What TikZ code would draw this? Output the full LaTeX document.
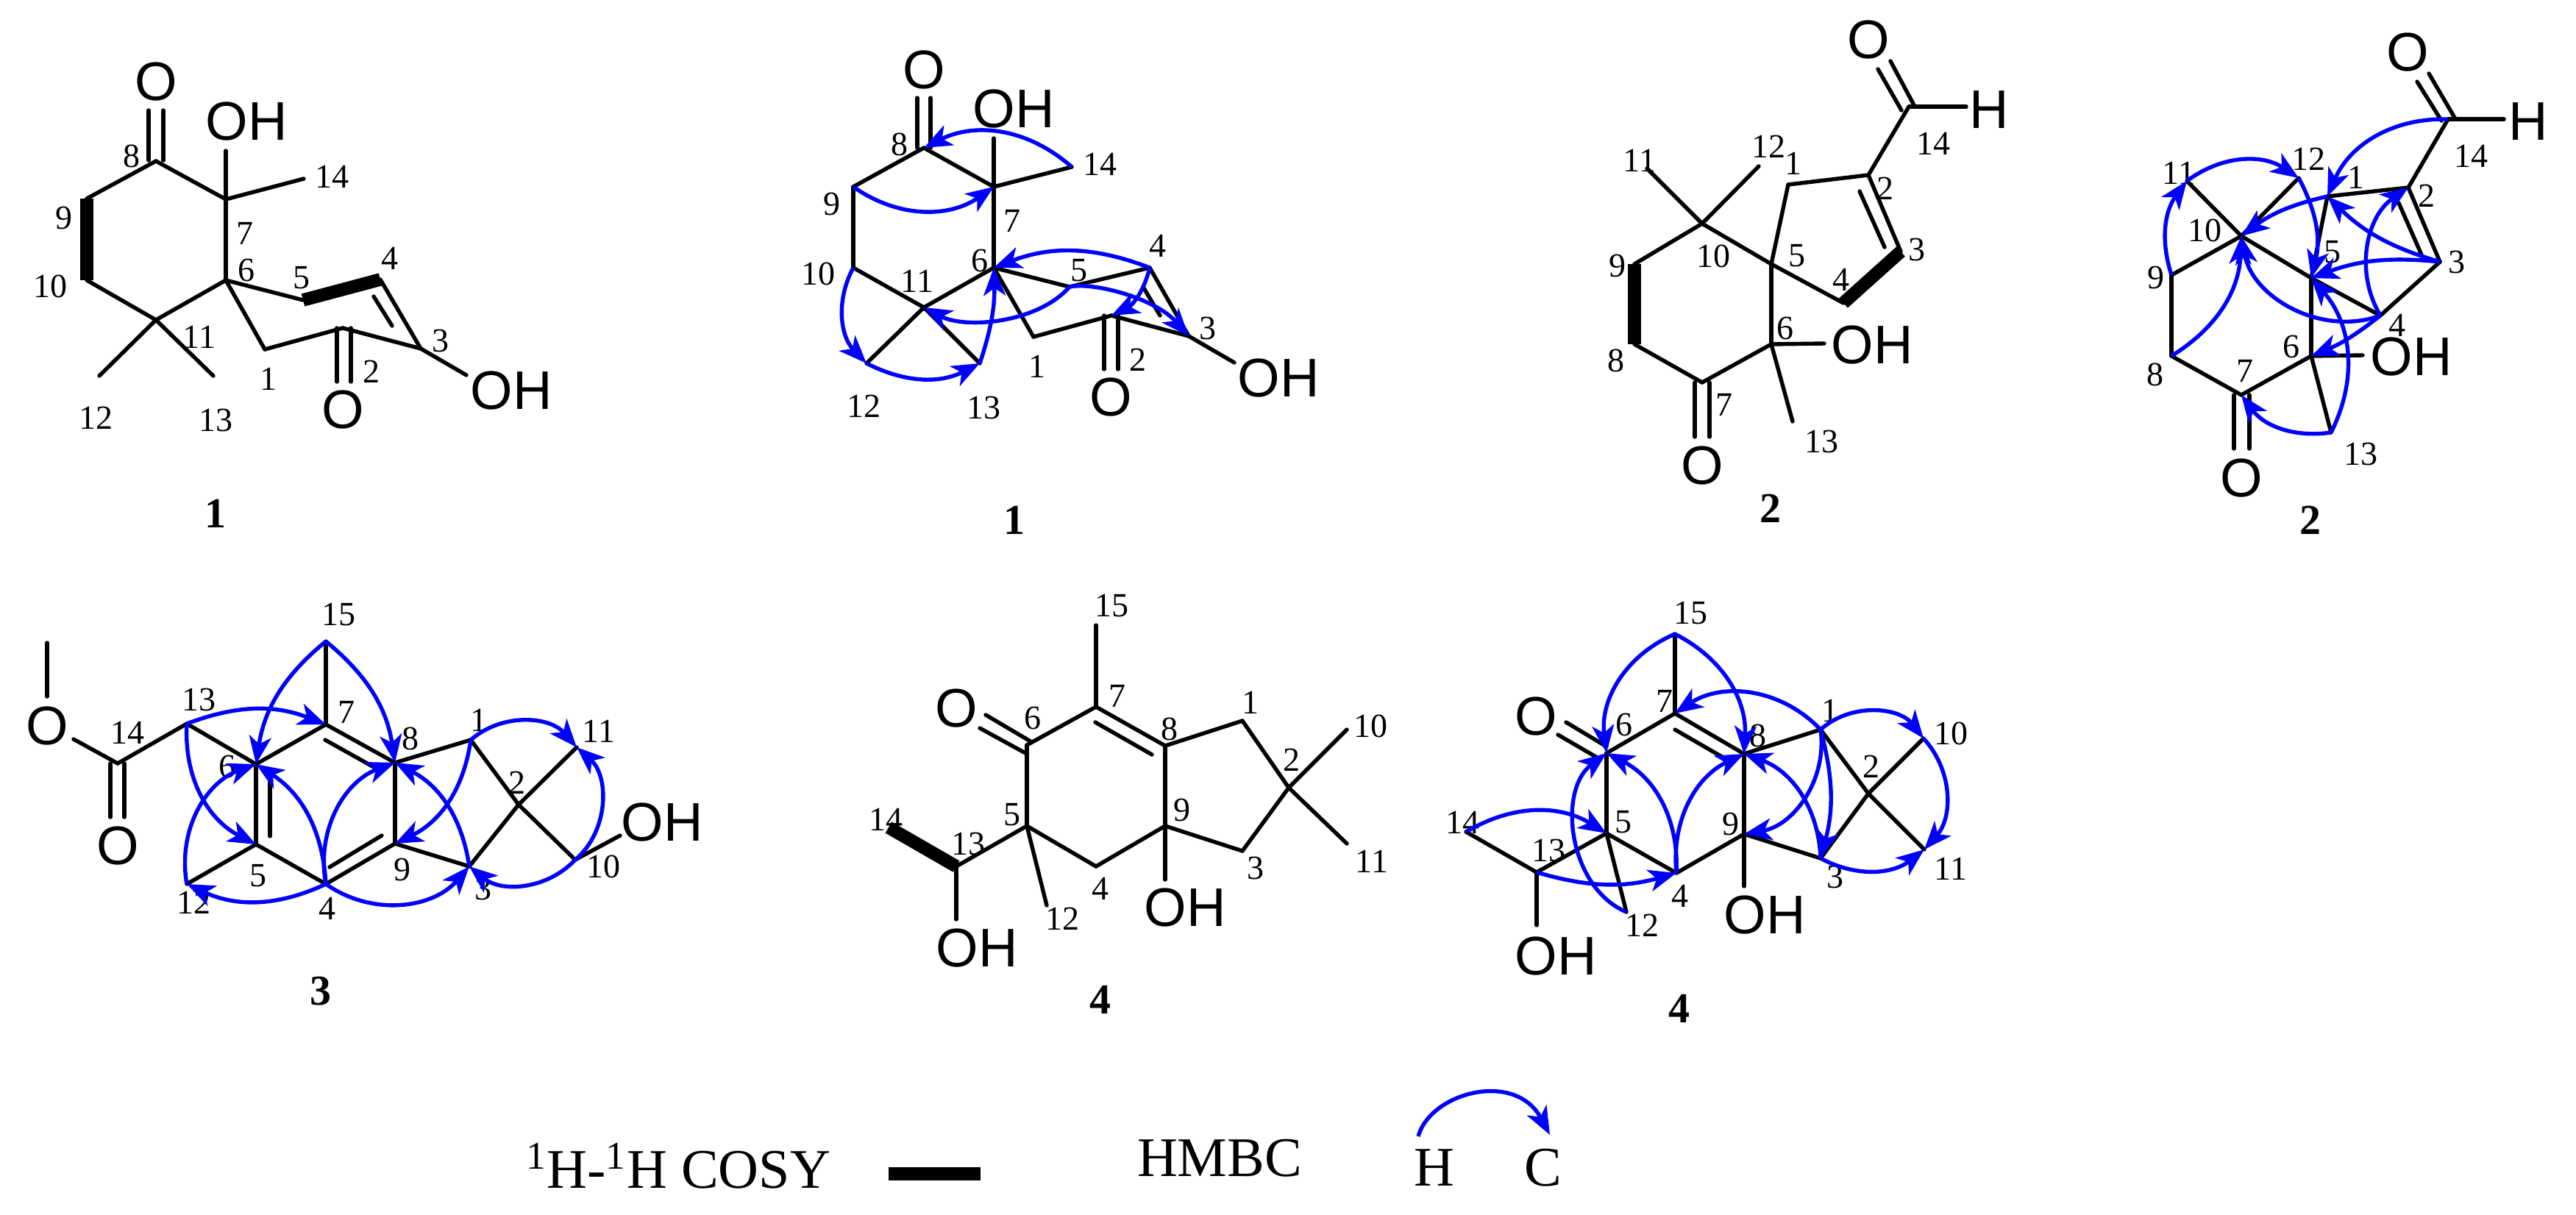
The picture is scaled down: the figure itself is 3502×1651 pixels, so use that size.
\documentclass[tikz,border=0pt]{standalone}
\usepackage{fontspec}
\setmainfont{Liberation Serif}
\newfontfamily\arialf{Liberation Sans}
\usetikzlibrary{arrows.meta}
\tikzset{
  bond/.style={line width=1.35pt,line cap=round,black},
  cosy/.style={line width=4.4pt,line cap=butt,black},
  hmbc/.style={line width=1.35pt,blue,-{Stealth[length=9.5pt,width=7.5pt,inset=2.6pt]}},
  numl/.style={inner sep=0pt,font=\fontsize{11.5}{11.5}\selectfont},
  atoml/.style={inner sep=0pt,font=\arialf\fontsize{18.5}{18.5}\selectfont},
  cmpd/.style={inner sep=0pt,font=\bfseries\fontsize{14.5}{14.5}\selectfont},
  legendl/.style={inner sep=0pt,font=\fontsize{19}{19}\selectfont}
}
\newcommand\crd[2]{\coordinate (#1) at (#2);}
\newcommand\nums[1]{\foreach \n/\p/\t in {#1}{\node[numl] (num\n) at (\p) {\t};}}
\newcommand\atm[3]{\node[atoml] (#1) at (#2) {#3};}
\newcommand\bnds[1]{\foreach \a/\b in {#1}{\draw[bond] (\a) -- (\b);}}
\newcommand\hl[3]{\draw[hmbc] (#1) to[bend left=#3] (#2);}
\newcommand\hr[3]{\draw[hmbc] (#1) to[bend right=#3] (#2);}
\begin{document}
\begin{tikzpicture}[x=0.25pt,y=-0.25pt]
\useasboundingbox (0,0) rectangle (3502,1651);
% ---------- compound 1 (left)
\foreach \n/\p in {8/{212,219},7/{307,271},6/{307,381},11/{212,435},10/{118,381},9/{118,270},5/{412,408},4/{517,380},3/{572,474},2/{466,446},1/{360,475},14/{413,243},12/{135,511},13/{290,511}}{\coordinate (A\n) at (\p);}
\crd{AOa}{202,150}\crd{AOb}{222,150}\crd{AOc}{202,218}\crd{AOd}{222,218}
\crd{AOH}{307,205}\crd{AQa}{458,446}\crd{AQb}{477,446}\crd{AQc}{458,519}\crd{AQd}{477,519}
\crd{AOHb}{634,510}\crd{AIa}{508,403}\crd{AIb}{533,443}
\atm{AO8}{212,111}{O}\atm{AOH7}{335,165}{OH}\atm{AO2}{466,557}{O}\atm{AOH3}{695,531}{OH}
\nums{a14/{451,240}/14,a7/{333,317}/7,a6/{335,367}/6,a5/{410,378}/5,a4/{530,351}/4,a3/{599,463}/3,a2/{505,505}/2,a1/{365,515}/1,a12/{131,568}/12,a13/{293,571}/13,a11/{271,458}/11,a10/{69,389}/10,a9/{87,296}/9,a8/{179,212}/8}
\node[cmpd] (cmpdA) at (293,698) {1};
\bnds{A8/A7,A7/A6,A6/A11,A11/A10,A9/A8,A6/A5,A4/A3,A3/A2,A2/A1,A1/A6,A7/A14,A11/A12,A11/A13,AOa/AOc,AOb/AOd,A7/AOH,AQa/AQc,AQb/AQd,A3/AOHb,AIa/AIb}
\draw[cosy] (A9) -- (A10);
\draw[cosy] (A5) -- (A4);
% ---------- compound 1 (HMBC)
\foreach \n/\p in {8/{1256,201},7/{1351,254},6/{1351,364},11/{1256,418},10/{1160,364},9/{1160,254},14/{1457,227},5/{1454,390},4/{1563,364},3/{1616,457},2/{1511,429},1/{1405,458},12/{1178,494},13/{1332,494}}{\coordinate (B\n) at (\p);}
\crd{BOa}{1247,133}\crd{BOb}{1265,133}\crd{BOc}{1247,201}\crd{BOd}{1265,201}
\crd{BOH}{1351,188}\crd{BQa}{1501,429}\crd{BQb}{1520,429}\crd{BQc}{1501,502}\crd{BQd}{1520,502}
\crd{BOHb}{1678,493}\crd{BIa}{1554,390}\crd{BIb}{1577,429}
\atm{BO8}{1256,95}{O}\atm{BOH7}{1378,148}{OH}\atm{BO2}{1510,540}{O}\atm{BOH3}{1738,514}{OH}
\nums{b14/{1495,223}/14,b7/{1376,300}/7,b6/{1332,354}/6,b11/{1247,382}/11,b5/{1467,368}/5,b4/{1574,334}/4,b10/{1112,372}/10,b9/{1131,277}/9,b8/{1223,196}/8,b3/{1642,446}/3,b2/{1547,489}/2,b1/{1410,498}/1,b12/{1174,552}/12,b13/{1337,554}/13}
\node[cmpd] (cmpdB) at (1379,707) {1};
\bnds{B8/B7,B7/B6,B6/B11,B11/B10,B10/B9,B9/B8,B6/B5,B5/B4,B4/B3,B3/B2,B2/B1,B1/B6,B7/B14,B11/B12,B11/B13,BOa/BOc,BOb/BOd,B7/BOH,BQa/BQc,BQb/BQd,B3/BOHb,BIa/BIb}
\hr{B14}{B8}{34}\hr{B9}{B7}{35}\hr{B10}{B12}{36}\hr{B12}{B13}{27}\hr{B13}{B6}{10}
\draw[hmbc] (B5) .. controls (1411,439) and (1313,448) .. (B11);
\draw[hmbc] (B5) .. controls (1485,383) and (1570,405) .. (B3);
\hl{B4}{B2}{25}\hr{B4}{B6}{21}
% ---------- compound 2 (left)
\foreach \n/\p in {10/{2314,304},9/{2222,359},8/{2222,468},7/{2314,520},6/{2408,468},5/{2408,359},4/{2506,412},3/{2584,342},2/{2540,238},1/{2431,251},14/{2595,145},11/{2239,229},12/{2391,226},13/{2437,573}}{\coordinate (C\n) at (\p);}
\crd{CHb}{2673,145}\crd{COa}{2553,94}\crd{COb}{2585,150}\crd{COc}{2570,83}\crd{COd}{2602,143}
\crd{COH}{2480,467}\crd{CQa}{2304,520}\crd{CQb}{2324,520}\crd{CQc}{2304,594}\crd{CQd}{2324,594}
\crd{CIa}{2528,260}\crd{CIb}{2562,336}
\atm{CO14}{2540,54}{O}\atm{CH14}{2704,149}{H}\atm{COH6}{2545,469}{OH}\atm{CO7}{2314,633}{O}
\nums{c11/{2229,218}/11,c12/{2404,199}/12,c1/{2438,222}/1,c2/{2563,256}/2,c3/{2606,339}/3,c4/{2503,380}/4,c5/{2443,348}/5,c10/{2329,348}/10,c9/{2199,361}/9,c8/{2197,490}/8,c7/{2344,550}/7,c6/{2427,446}/6,c14/{2628,195}/14,c13/{2476,600}/13}
\node[cmpd] (cmpdC) at (2407,691) {2};
\bnds{C10/C9,C8/C7,C7/C6,C6/C5,C5/C10,C5/C4,C3/C2,C2/C1,C1/C5,C2/C14,C14/CHb,COa/COb,COc/COd,C10/C11,C10/C12,C6/COH,C6/C13,CQa/CQc,CQb/CQd,CIa/CIb}
\draw[cosy] (C9) -- (C8);
\draw[cosy] (C4) -- (C3);
% ---------- compound 2 (HMBC)
\foreach \n/\p in {10/{3047,321},9/{2952,374},8/{2952,484},7/{3047,537},6/{3142,484},5/{3142,378},4/{3236,429},3/{3317,356},2/{3274,255},1/{3164,267},14/{3328,162},11/{2973,246},12/{3125,242},13/{3169,588}}{\coordinate (D\n) at (\p);}
\crd{DHb}{3404,162}\crd{DOa}{3286,111}\crd{DOb}{3319,164}\crd{DOc}{3302,100}\crd{DOd}{3337,160}
\crd{DOH}{3212,483}\crd{DQa}{3037,537}\crd{DQb}{3058,537}\crd{DQc}{3037,610}\crd{DQd}{3058,610}
\crd{DIa}{3261,276}\crd{DIb}{3294,351}
\atm{DO14}{3273,71}{O}\atm{DH14}{3437,165}{H}\atm{DOH6}{3278,485}{OH}\atm{DO7}{3047,650}{O}
\nums{d11/{2962,235}/11,d12/{3138,216}/12,d1/{3203,241}/1,d2/{3299,266}/2,d3/{3340,356}/3,d4/{3259,442}/4,d5/{3171,343}/5,d10/{2997,313}/10,d9/{2931,377}/9,d8/{2930,509}/8,d7/{3052,504}/7,d6/{3115,471}/6,d14/{3359,212}/14,d13/{3209,617}/13}
\node[cmpd] (cmpdD) at (3141,707) {2};
\bnds{D10/D9,D9/D8,D8/D7,D7/D6,D6/D5,D5/D10,D5/D4,D4/D3,D3/D2,D2/D1,D1/D5,D2/D14,D14/DHb,DOa/DOb,DOc/DOd,D10/D11,D10/D12,D6/DOH,D6/D13,DQa/DQc,DQb/DQd,DIa/DIb}
\hr{D14}{D1}{34}\hl{D11}{D12}{35}\hl{D9}{D11}{27}\hr{D8}{D10}{28}\hl{D12}{D5}{21}
\hr{D1}{D10}{12}\hl{D3}{D1}{14}\hr{D3}{D5}{13}\hl{D4}{D2}{43}\hl{D4}{D10}{50}
\hl{D4}{D6}{8}\hr{D13}{D5}{34}\hl{D13}{D7}{31}
% ---------- compound 3
\foreach \n/\p in {13/{254,984},6/{348,1039},7/{443,985},8/{537,1037},9/{537,1147},4/{443,1202},5/{348,1148},12/{254,1202},14/{160,1038},15/{443,872},1/{640,1006},2/{705,1094},11/{784,1016},10/{782,1169},3/{638,1178}}{\coordinate (E\n) at (\p);}
\crd{EOa}{150,1038}\crd{EOb}{169,1038}\crd{EOc}{150,1111}\crd{EOd}{169,1111}
\crd{EMa}{64,874}\crd{EMb}{64,947}\crd{EEs}{100,1005}\crd{EOH}{843,1136}
\crd{EIa}{442,1006}\crd{EIb}{510,1044}\crd{EJa}{367,1063}\crd{EJb}{367,1137}\crd{EKa}{448,1179}\crd{EKb}{519,1136}
\atm{EO14}{160,1150}{O}\atm{EOe}{64,987}{O}\atm{EOH10}{900,1118}{OH}
\nums{e15/{460,836}/15,e7/{471,968}/7,e13/{270,951}/13,e14/{173,996}/14,e6/{309,1042}/6,e8/{558,1004}/8,e1/{651,979}/1,e2/{703,1064}/2,e11/{814,994}/11,e10/{820,1178}/10,e3/{657,1208}/3,e9/{547,1182}/9,e5/{351,1191}/5,e4/{445,1235}/4,e12/{263,1227}/12}
\node[cmpd] (cmpdE) at (436,1348) {3};
\bnds{E13/E14,E13/E6,E6/E7,E7/E8,E8/E9,E9/E4,E4/E5,E5/E6,E5/E12,E7/E15,E8/E1,E1/E2,E2/E11,E2/E10,E2/E3,E3/E9,E10/EOH,EOa/EOc,EOb/EOd,EMa/EMb,EEs/E14,EIa/EIb,EJa/EJb,EKa/EKb}
\hr{E15}{E6}{21}\hl{E15}{E8}{21}\hl{E13}{E7}{21}\hr{E13}{E5}{33}\hl{E12}{E6}{40}
\hr{E4}{E6}{27}\hl{E4}{E8}{40}\hl{E1}{E11}{45}\hl{E1}{E9}{28}\hr{E3}{E8}{27}
\hr{E10}{E11}{49}\hl{E10}{E3}{43}\hr{E4}{E3}{42}\hl{E4}{E12}{25}
% ---------- compound 4 (left)
\foreach \n/\p in {6/{1396,1013},7/{1490,961},8/{1584,1014},9/{1584,1123},4/{1490,1178},5/{1396,1123},13/{1300,1178},14/{1208,1125},12/{1423,1231},15/{1490,850},1/{1689,980},2/{1752,1071},3/{1689,1157},10/{1831,992},11/{1831,1147}}{\coordinate (F\n) at (\p);}
\crd{FOH}{1300,1250}\crd{FOHn}{1584,1196}
\crd{FOa}{1340,972}\crd{FOb}{1401,1008}\crd{FOc}{1332,990}\crd{FOd}{1396,1025}
\crd{FIa}{1489,982}\crd{FIb}{1566,1026}
\atm{FO6}{1300,963}{O}\atm{FOH13}{1328,1289}{OH}\atm{FOH9}{1611,1234}{OH}
\nums{f15/{1511,824}/15,f7/{1519,946}/7,f6/{1404,976}/6,f8/{1590,991}/8,f1/{1700,955}/1,f2/{1756,1033}/2,f10/{1863,987}/10,f11/{1865,1171}/11,f3/{1707,1180}/3,f9/{1607,1101}/9,f4/{1496,1208}/4,f5/{1376,1108}/5,f13/{1316,1147}/13,f14/{1204,1114}/14,f12/{1444,1249}/12}
\node[cmpd] (cmpdF) at (1496,1359) {4};
\bnds{F6/F7,F7/F8,F8/F9,F9/F4,F4/F5,F5/F6,F5/F13,F13/FOH,F5/F12,F7/F15,F8/F1,F1/F2,F2/F3,F3/F9,F2/F10,F2/F11,F9/FOHn,FOa/FOb,FOc/FOd,FIa/FIb}
\draw[cosy] (F14) -- (F13);
% ---------- compound 4 (HMBC)
\foreach \n/\p in {6/{2184,1024},7/{2277,970},8/{2371,1025},9/{2371,1134},4/{2279,1187},5/{2184,1133},13/{2089,1186},14/{1993,1131},12/{2211,1240},15/{2277,862},1/{2475,992},2/{2540,1079},3/{2475,1167},10/{2615,1004},11/{2616,1155}}{\coordinate (G\n) at (\p);}
\crd{GOH}{2089,1258}\crd{GOHn}{2371,1205}
\crd{GOa}{2129,982}\crd{GOb}{2184,1015}\crd{GOc}{2118,999}\crd{GOd}{2173,1031}
\crd{GIa}{2277,992}\crd{GIb}{2348,1033}
\atm{GO6}{2088,974}{O}\atm{GOH13}{2115,1300}{OH}\atm{GOH9}{2399,1244}{OH}
\nums{g15/{2298,834}/15,g7/{2263,953}/7,g6/{2208,985}/6,g8/{2390,1000}/8,g9/{2353,1120}/9,g5/{2207,1118}/5,g1/{2488,966}/1,g2/{2544,1042}/2,g10/{2652,997}/10,g11/{2652,1181}/11,g3/{2495,1192}/3,g4/{2284,1218}/4,g13/{2105,1156}/13,g14/{1988,1118}/14,g12/{2232,1258}/12}
\node[cmpd] (cmpdG) at (2283,1371) {4};
\bnds{G6/G7,G7/G8,G8/G9,G9/G4,G4/G5,G5/G6,G5/G13,G13/GOH,G13/G14,G5/G12,G7/G15,G8/G1,G1/G2,G2/G3,G3/G9,G2/G10,G2/G11,G9/GOHn,GOa/GOb,GOc/GOd,GIa/GIb}
\hr{G15}{G6}{37}\hl{G15}{G8}{33}\hr{G1}{G7}{40}\hl{G1}{G10}{47}\hl{G1}{G9}{44}
\hl{G1}{G3}{15}\hr{G3}{G8}{34}\hr{G3}{G11}{33}\hl{G10}{G11}{42}\hr{G4}{G6}{33}
\hl{G4}{G8}{35}\hl{G12}{G6}{60}\hl{G14}{G5}{31}\hr{G13}{G4}{16}
% ---------- legend
\node[legendl,anchor=base] (lcosy) at (922,1615) {\textsuperscript{1}H-\textsuperscript{1}H COSY};
\crd{LCa}{1208,1596}\crd{LCb}{1333,1596}
\draw[line width=4.5pt,black] (LCa) -- (LCb);
\node[legendl,anchor=base] (lhmbc) at (1658,1599) {HMBC};
\node[legendl,anchor=base] (lH) at (1950,1612) {H};
\node[legendl,anchor=base] (lC) at (2098,1612) {C};
\crd{LAa}{1928,1545}\crd{LAb}{2107,1543}
\draw[hmbc] (LAa) .. controls (1945,1485) and (2060,1455) .. (LAb);
\end{tikzpicture}
\end{document}
